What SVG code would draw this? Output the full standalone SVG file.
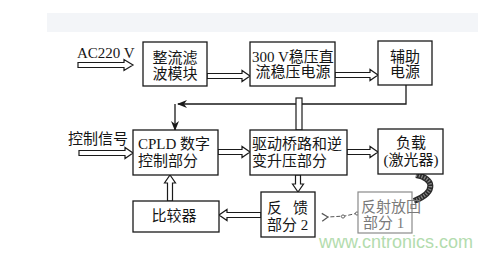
<svg xmlns="http://www.w3.org/2000/svg" width="503" height="253" viewBox="0 0 503 253">
<style>
.box{fill:#fff;stroke:#1a1a1a;stroke-width:1.3}
.t{font-family:"Liberation Serif","Noto Sans CJK SC",serif;font-size:15px;fill:#151515}
.ha{fill:#fff;stroke:#1a1a1a;stroke-width:1.2;stroke-linejoin:miter}
.ln{fill:none;stroke:#1a1a1a;stroke-width:1.3}
.faded{fill:#fff;stroke:#8a8a8a;stroke-width:1.2}
.tf{font-family:"Liberation Serif","Noto Sans CJK SC",serif;font-size:15px;fill:#7a7a7a}
</style>
<defs>
<marker id="ah" markerWidth="10" markerHeight="10" refX="9" refY="5" orient="auto" markerUnits="userSpaceOnUse">
<path d="M0,1 L10,5 L0,9 L3,5 Z" fill="#1a1a1a"/>
</marker>
<marker id="oh" markerWidth="8" markerHeight="10" refX="1" refY="5" orient="auto" markerUnits="userSpaceOnUse">
<path d="M7,1 L1,5 L7,9" fill="none" stroke="#555" stroke-width="1.2"/>
</marker>
</defs>
<rect width="503" height="253" fill="#fff"/>
<rect x="47" y="13" width="431" height="19" fill="#f3f5f8"/>

<g id="connectors">
<polygon class="ha" points="78,62.5 124,62.5 124,59.5 133,65 124,70.5 124,67.5 78,67.5"/>
<polygon class="ha" points="207,73.5 242,73.5 242,70.5 250,76 242,81.5 242,78.5 207,78.5"/>
<polygon class="ha" points="335,72.5 370,72.5 370,69.5 378,75 370,80.5 370,77.5 335,77.5"/>
<polygon class="ha" points="79,150.5 125,150.5 125,147.5 133,153 125,158.5 125,155.5 79,155.5"/>
<polygon class="ha" points="218,149.5 242,149.5 242,146.5 250,152 242,157.5 242,154.5 218,154.5"/>
<polygon class="ha" points="347,149.5 370,149.5 370,146.5 378,152 370,157.5 370,154.5 347,154.5"/>
<polygon class="ha" points="295.5,175 295.5,184 292.5,184 298,192 303.5,184 300.5,184 300.5,175"/>
<polygon class="ha" points="167.5,201 167.5,183 164.5,183 170,175 175.5,183 172.5,183 172.5,201"/>
<polygon class="ha" points="261,212.5 227,212.5 227,209.5 219,215 227,220.5 227,217.5 261,217.5"/>
<path class="ln" d="M406,85 V104 H178" marker-end="url(#ah)"/>
<path class="ln" d="M175,104 V130" marker-end="url(#ah)"/>
<rect class="ha" x="296" y="98" width="6" height="32"/>
<path d="M358,213 L345,216 L328,217" fill="none" stroke="#555" stroke-width="1" stroke-dasharray="4,2" marker-end="url(#oh)"/>
<circle cx="343" cy="216.5" r="1.6" fill="#fff" stroke="#555" stroke-width="0.9"/>
<circle cx="357" cy="213.5" r="1.6" fill="#fff" stroke="#555" stroke-width="0.9"/>
<path d="M416,175 C434,178 437,192 414,201" fill="none" stroke="#2a2a2a" stroke-width="6"/>
<path d="M416,175 C434,178 437,192 414,201" fill="none" stroke="#888" stroke-width="3.5" stroke-dasharray="1.2,1.6"/>
</g>

<g id="n1"><rect class="box" x="143" y="42" width="64" height="44"/>
<text class="t" x="175" y="63" text-anchor="middle">整流滤</text>
<text class="t" x="175" y="79" text-anchor="middle">波模块</text></g>

<g id="n2"><rect class="box" x="250" y="42" width="85" height="44"/>
<text class="t" x="252" y="62">300 V稳压直</text>
<text class="t" x="293" y="77" text-anchor="middle">流稳压电源</text></g>

<g id="n3"><rect class="box" x="378" y="41" width="54" height="44"/>
<text class="t" x="405" y="62" text-anchor="middle">辅助</text>
<text class="t" x="405" y="77" text-anchor="middle">电源</text></g>

<g id="lbl-ac"><text class="t" x="77" y="58">AC220 V</text></g>
<g id="lbl-ctrl"><text class="t" x="68" y="144">控制信号</text></g>

<g id="n4"><rect class="box" x="133" y="130" width="85" height="45"/>
<text class="t" x="138" y="149">CPLD 数字</text>
<text class="t" x="138" y="166">控制部分</text></g>

<g id="n5"><rect class="box" x="250" y="130" width="97" height="45"/>
<text class="t" x="252" y="149">驱动桥路和逆</text>
<text class="t" x="252" y="166">变升压部分</text></g>

<g id="n6"><rect class="box" x="378" y="129" width="65" height="45"/>
<text class="t" x="411" y="148" text-anchor="middle">负载</text>
<text class="t" x="411" y="165" text-anchor="middle">(激光器)</text></g>

<g id="n7"><rect class="box" x="133" y="201" width="86" height="31"/>
<text class="t" x="174" y="221" text-anchor="middle">比较器</text></g>

<g id="n8"><rect class="box" x="261" y="192" width="54" height="45"/>
<text class="t" x="267" y="213">反<tspan x="293">馈</tspan></text>
<text class="t" x="267" y="230">部分 2</text></g>

<g id="n9"><rect class="faded" x="358" y="192" width="54" height="41"/>
<text class="tf" x="361" y="212">反射放回</text>
<text class="tf" x="363" y="228">部分 1</text></g>

<text x="319" y="248" font-family="Liberation Sans,Arial,sans-serif" font-size="18" fill="#b3dcae">www.cntronics.com</text>
</svg>
